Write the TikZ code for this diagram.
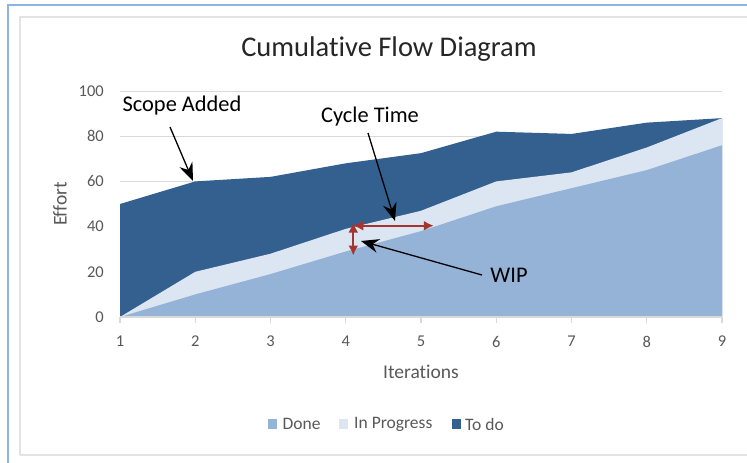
\documentclass[tikz,border=0pt]{standalone}
\usepackage{fontspec}
\setmainfont{Carlito}[RawFeature={-liga}]
\usetikzlibrary{arrows.meta}

\definecolor{doneblue}{HTML}{95B3D7}
\definecolor{progblue}{HTML}{DCE6F2}
\definecolor{todoblue}{HTML}{34608F}
\definecolor{gridgray}{HTML}{D9D9D9}
\definecolor{labelgray}{HTML}{595959}
\definecolor{framegray}{HTML}{E3E3E3}
\definecolor{edgeblue}{HTML}{8EB4E3}
\definecolor{marker}{HTML}{A5352F}

\tikzset{
  ticklabel/.style={text=labelgray, font=\fontsize{16.5}{18}\selectfont, inner sep=0pt},
  axistitle/.style={text=labelgray, font=\fontsize{19.5}{22}\selectfont, inner sep=0pt},
  callout/.style={text=black, font=\fontsize{22.4}{26}\selectfont, inner sep=0pt},
  pointer/.style={draw=black, line width=1.3pt, -{Stealth[length=18pt,width=14pt,inset=6pt]}},
  spanarrow/.style={draw=marker, line width=2pt, {Latex[length=10pt,width=10pt]}-{Latex[length=10pt,width=10pt]}},
  legendkey/.style={minimum width=9pt, minimum height=9.5pt, inner sep=0pt},
  legendtext/.style={text=labelgray, font=\fontsize{17.5}{20}\selectfont, inner sep=0pt, anchor=west},
}

\begin{document}
\begin{tikzpicture}[x=1pt, y=-1pt]
\useasboundingbox (0,0) rectangle (747,463);
\fill[white] (0,0) rectangle (747,463);

% window edge and chart frame
\draw[edgeblue, line width=2pt] (8,463) -- (8,5) -- (747,5);
\draw[framegray, line width=2pt] (20,455) -- (20,17) -- (750,17);
\draw[framegray, line width=2pt] (20,455) -- (750,455);

% title
\node[text=black!85, font=\fontsize{28.5}{32}\selectfont, inner sep=0pt] (title) at (389,49) {Cumulative Flow Diagram};

% plot area: iteration i at x, effort v at y
\begin{scope}[xshift=44.75pt, yshift=-317pt, x=75.25pt, y=2.26pt]
  % gridlines
  \foreach \v in {20,40,...,100}
    \draw[gridgray, line width=1pt] (1,\v) -- (9,\v);
  % To do
  \fill[todoblue] (1,0) -- (1,50) -- (2,60) -- (3,62) -- (4,68) -- (5,72.5) -- (6,82) -- (7,81) -- (8,86) -- (9,88) -- (9,0) -- cycle;
  % In Progress
  \fill[progblue] (1,0) -- (2,20) -- (3,28) -- (4,39) -- (5,47) -- (6,60) -- (7,64) -- (8,75) -- (9,88) -- (9,0) -- cycle;
  % Done
  \fill[doneblue] (1,0) -- (2,10) -- (3,19) -- (4,29) -- (5,38) -- (6,49) -- (7,57) -- (8,65) -- (9,76) -- (9,0) -- cycle;
  % category axis with tick marks
  \draw[gridgray, line width=1.2pt] (1,0) -- (9,0);
  \foreach \i in {1,...,9} {
    \draw[gridgray, line width=1.2pt] (\i,0) -- ++(0,-2.6);
    \node[ticklabel, anchor=north] (xl\i) at ([yshift=-19pt]\i,0) {\i};
  }
  \foreach \v in {0,20,...,100}
    \node[ticklabel, anchor=east] (yl\v) at ([xshift=-16pt]1,\v) {\v};

  % cycle time and WIP markers
  \coordinate (ctL) at (4.1,40.4);
  \coordinate (ctR) at (5.17,40.4);
  \coordinate (wipT) at (4.1,41.8);
  \coordinate (wipB) at (4.1,27.2);
  \draw[spanarrow] (ctL) -- (ctR);
  \draw[spanarrow] (wipT) -- (wipB);
\end{scope}

% axis titles
\node[axistitle, rotate=90] (ytitle) at (60,204) {Effort};
\node[axistitle] (xtitle) at (421,372) {Iterations};

% callouts
\node[callout] (scope) at (182,106) {Scope Added};
\node[callout] (cycle) at (370,117) {Cycle Time};
\node[callout] (wip) at (509,275) {WIP};
\coordinate (scopeS) at (170,127);
\coordinate (scopeE) at (193,181);
\coordinate (cycleS) at (368,133);
\coordinate (cycleE) at (395,221);
\coordinate (wipS) at (482,275);
\coordinate (wipE) at (361,241);
\draw[pointer] (scopeS) -- (scopeE);
\draw[pointer] (cycleS) -- (cycleE);
\draw[pointer] (wipS) -- (wipE);

% legend
\node[legendkey, fill=doneblue] (kdone) at (272,424) {};
\node[legendtext] (tdone) at (282.5,424) {Done};
\node[legendkey, fill=progblue] (kprog) at (343.5,424) {};
\node[legendtext] (tprog) at (354,424) {In Progress};
\node[legendkey, fill=todoblue] (ktodo) at (456,424) {};
\node[legendtext] (ttodo) at (465,424) {To do};
\end{tikzpicture}
\end{document}
